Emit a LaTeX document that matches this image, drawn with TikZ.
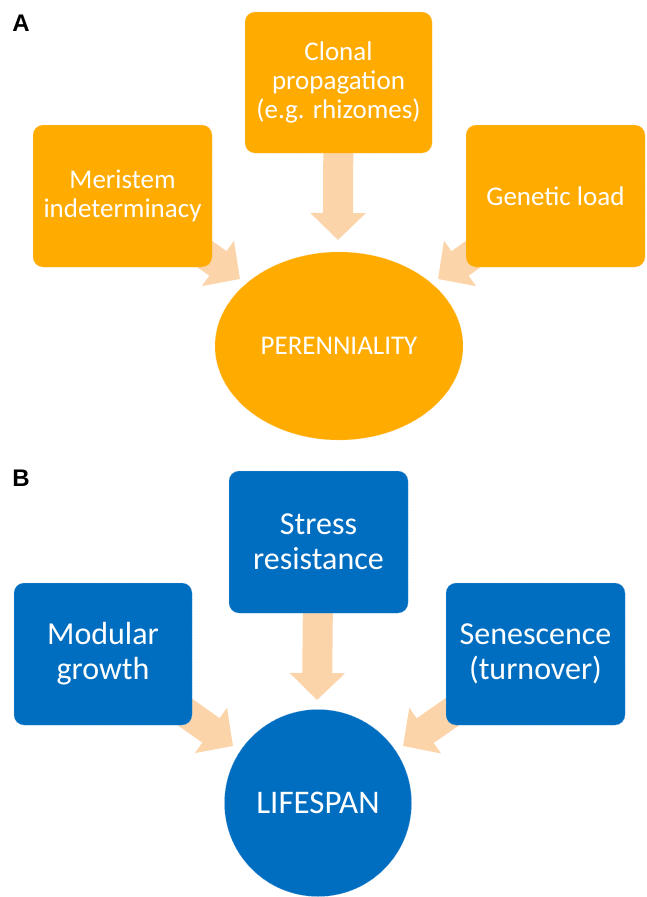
\documentclass[tikz,border=0pt]{standalone}
\usepackage{fontspec}
\setmainfont{Carlito}
\newfontfamily\labelfont{Liberation Sans}
\usetikzlibrary{shapes.geometric,arrows.meta,backgrounds}
\definecolor{orng}{RGB}{255,171,0}
\definecolor{orngl}{RGB}{255,205,120}
\definecolor{blu}{RGB}{0,110,192}
\definecolor{blul}{RGB}{110,165,220}
\definecolor{peach}{RGB}{251,212,170}
\begin{document}
\begin{tikzpicture}[x=1pt,y=-1pt,
  boxA/.style={rectangle, rounded corners=10pt, fill=orng, draw=orngl, densely dotted, line width=0.5pt,
    text=white, align=center, inner sep=0pt, font=\fontsize{27}{29}\selectfont},
  boxB/.style={rectangle, rounded corners=10pt, fill=blu, draw=blul, densely dotted, line width=0.5pt,
    text=white, align=center, inner sep=0pt, font=\fontsize{32}{35}\selectfont},
  bigarrow/.style={draw=peach, solid, line width=30pt, -{Triangle[length=27pt,width=54pt]}},
  panel/.style={font=\labelfont\bfseries\fontsize{24}{24}\selectfont, inner sep=0pt}]
\useasboundingbox (0,0) rectangle (647,897);

% Panel A
\node[panel] (la) at (21,23) {A};
\node[boxA, minimum width=187pt, minimum height=141pt] (clon) at (338.5,82.5) {Clonal\\propagation\\(e.g. rhizomes)};
\node[boxA, minimum width=179pt, minimum height=142pt] (mer) at (122.5,196) {Meristem\\indeterminacy};
\node[boxA, minimum width=179pt, minimum height=142pt] (gen) at (555.5,196) {Genetic load};
\node[ellipse, fill=orng, draw=orngl, densely dotted, line width=0.5pt, inner sep=0pt,
  minimum width=248pt, minimum height=188pt, text=white, font=\fontsize{27}{30}\selectfont] (per) at (339,346) {PERENNIALITY};
\coordinate (tA1) at (240,279);
\coordinate (tA2) at (338,240);
\coordinate (tA3) at (438,279);

% Panel B
\node[panel] (lb) at (21,478) {B};
\node[boxB, minimum width=179pt, minimum height=142pt] (str) at (318.5,542) {Stress\\resistance};
\node[boxB, minimum width=178pt, minimum height=142pt] (mod) at (103,654) {Modular\\growth};
\node[boxB, minimum width=179pt, minimum height=142pt] (sen) at (535.5,654) {Senescence\\(turnover)};
\node[circle, fill=blu, draw=blul, densely dotted, line width=0.5pt, inner sep=0pt,
  minimum size=187pt, text=white, font=\fontsize{33}{35}\selectfont] (life) at (318,803) {LIFESPAN};
\coordinate (tB1) at (233,746);
\coordinate (tB2) at (317,700);
\coordinate (tB3) at (403,746);

\begin{scope}[on background layer]
\draw[bigarrow] (mer.center) -- (tA1);
\draw[bigarrow] (clon.center) -- (tA2);
\draw[bigarrow] (gen.center) -- (tA3);
\draw[bigarrow] (mod.center) -- (tB1);
\draw[bigarrow] (str.center) -- (tB2);
\draw[bigarrow] (sen.center) -- (tB3);
\end{scope}
\end{tikzpicture}
\end{document}
